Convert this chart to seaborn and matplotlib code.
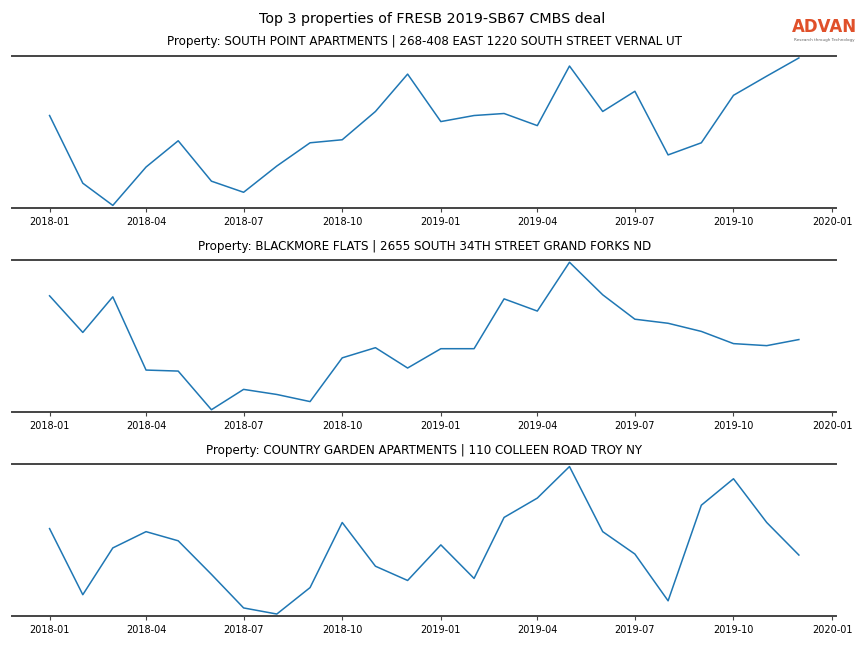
import pandas as pd
import seaborn as sns
import matplotlib.pyplot as plt
import matplotlib.dates as mdates

months = pd.date_range("2018-01-01", "2019-12-01", freq="MS")

titles = [
    "Property: SOUTH POINT APARTMENTS | 268-408 EAST 1220 SOUTH STREET VERNAL UT",
    "Property: BLACKMORE FLATS | 2655 SOUTH 34TH STREET GRAND FORKS ND",
    "Property: COUNTRY GARDEN APARTMENTS | 110 COLLEEN ROAD TROY NY",
]

south_point = [91, 24, 2, 40, 66, 26, 15, 41, 64, 67, 95, 132,
               85, 91, 93, 81, 140, 95, 115, 52, 64, 111, 130, 148]
blackmore = [115, 79, 114, 42, 41, 3, 23, 18, 11, 54, 64, 44,
             63, 63, 112, 100, 148, 116, 92, 88, 80, 68, 66, 72]
country_garden = [88, 23, 69, 85, 76, 43, 10, 4, 30, 94, 51, 37,
                  72, 39, 99, 118, 149, 85, 63, 17, 111, 137, 94, 62]

series = [south_point, blackmore, country_garden]

fig, axes = plt.subplots(3, 1, figsize=(8.64, 6.48), dpi=100)
fig.subplots_adjust(left=0.014, right=0.968, top=0.914, bottom=0.049, hspace=0.345)

for ax, title, vals in zip(axes, titles, series):
    df = pd.DataFrame({"date": months, "visits": vals})
    sns.lineplot(data=df, x="date", y="visits", ax=ax, color="#1f77b4", linewidth=1.1)
    ax.margins(y=0.015)
    ax.set_title(title, fontsize=8.6, pad=7.5)
    ax.set_xlabel("")
    ax.set_ylabel("")
    ax.set_yticks([])
    ax.xaxis.set_major_locator(mdates.MonthLocator(bymonth=[1, 4, 7, 10]))
    ax.xaxis.set_major_formatter(mdates.DateFormatter("%Y-%m"))
    ax.tick_params(axis="x", labelsize=7, length=3, color="#444444")
    for side in ["left", "right"]:
        ax.spines[side].set_visible(False)
    for side in ["top", "bottom"]:
        ax.spines[side].set_color("#444444")
        ax.spines[side].set_linewidth(1.4)

fig.suptitle("Top 3 properties of FRESB 2019-SB67 CMBS deal", fontsize=10.3, y=0.981)

# logo
fig.text(0.9545, 0.944, "ADVAN", color="#e0502a", fontsize=12, fontweight="bold",
         ha="center", va="bottom")
fig.text(0.9545, 0.935, "Research through Technology", color="#666666", fontsize=3,
         ha="center", va="bottom")

fig.savefig("out.png", dpi=100)
